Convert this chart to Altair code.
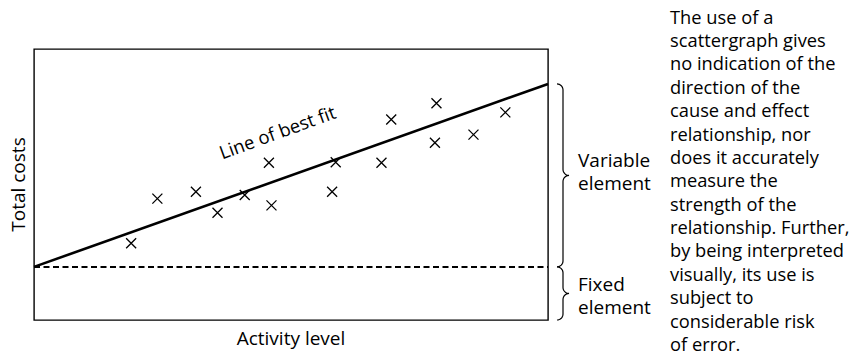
import math
import altair as alt
import pandas as pd

# ---- data (0-100 arbitrary units) ----
activity = [18.9, 24.0, 31.5, 35.7, 41.0, 45.7, 46.2, 58.0, 58.7, 67.6, 69.5, 78.0, 78.3, 85.5, 91.7]
cost = [28.3, 44.8, 47.3, 39.6, 46.1, 58.0, 42.3, 47.3, 58.2, 58.0, 74.0, 65.4, 80.0, 68.4, 76.6]
fit_x = [0, 100]
fit_y = [19.6, 87.1]
fixed_level = 19.6

x_title = "Activity level"
y_title = "Total costs"
paragraph = [
    "The use of a",
    "scattergraph gives",
    "no indication of the",
    "direction of the",
    "cause and effect",
    "relationship, nor",
    "does it accurately",
    "measure the",
    "strength of the",
    "relationship. Further,",
    "by being interpreted",
    "visually, its use is",
    "subject to",
    "considerable risk",
    "of error.",
]

W, H = 514, 271
FONT = "Open Sans"

xs = alt.Scale(domain=[0, 100], nice=False, zero=False)
ys = alt.Scale(domain=[0, 100], nice=False, zero=False)

pts = pd.DataFrame({"a": activity, "c": cost})
fit = pd.DataFrame({"a": fit_x, "c": fit_y})
fixed = pd.DataFrame({"a": [0, 100], "c": [fixed_level, fixed_level]})

base_x = alt.X("a:Q", scale=xs, axis=None)
base_y = alt.Y("c:Q", scale=ys, axis=None)

cross = "M-1,-1L1,1M-1,1L1,-1"
fixed_line = alt.Chart(fixed).mark_line(color="black", strokeWidth=2, strokeDash=[6, 3.5]).encode(
    x=base_x, y=base_y)

fit_line = alt.Chart(fit).mark_line(color="black", strokeWidth=2.6).encode(x=base_x, y=base_y)

points = alt.Chart(pts).mark_point(shape=cross, filled=False, stroke="black",
                                   strokeWidth=1.3, size=100, opacity=1).encode(x=base_x, y=base_y)

label = alt.Chart(pd.DataFrame({"a": [47.4], "c": [69.0], "t": ["Line of best fit"]})).mark_text(
    font=FONT, fontSize=18.5, angle=340, align="center", baseline="middle", color="black"
).encode(x=base_x, y=base_y, text="t:N")

# axis titles (the chart has no ticks or labels)
xt = alt.Chart(pd.DataFrame({"t": [x_title]})).mark_text(
    font=FONT, fontSize=19, align="center", baseline="alphabetic", color="black"
).encode(x=alt.value(W / 2), y=alt.value(H + 25), text="t:N")
yt = alt.Chart(pd.DataFrame({"t": [y_title]})).mark_text(
    font=FONT, fontSize=19, angle=270, align="center", baseline="alphabetic", color="black"
).encode(x=alt.value(-9), y=alt.value(H / 2), text="t:N")


# ---- braces, built from the levels they mark ----
def to_py(v):
    return H * (1 - v / 100.0)


def brace(y_top, y_bot, x0=523, r=6, tip=6):
    yt_, yb = to_py(y_top), to_py(y_bot)
    ym = (yt_ + yb) / 2
    sx = x0 + r
    out = []

    def arc(cx, cy, rad, a0, a1, n=8):
        for k in range(n + 1):
            t = math.radians(a0 + (a1 - a0) * k / n)
            out.append((cx + rad * math.cos(t), cy + rad * math.sin(t)))

    arc(x0, yt_ + r, r, -90, 0)
    arc(sx + tip, ym - tip, tip, 180, 90)
    arc(sx + tip, ym + tip, tip, 270, 180)
    arc(x0, yb - r, r, 0, 90)
    return out


rows = []
for name, (top, bot) in {"var": (fit_y[1], fixed_level), "fix": (fixed_level, 0)}.items():
    for i, (px, py) in enumerate(brace(top, bot)):
        rows.append({"b": name, "i": i, "px": px, "py": py})
braces = alt.Chart(pd.DataFrame(rows)).mark_line(color="black", strokeWidth=1.2).encode(
    x=alt.X("px:Q", scale=None, axis=None), y=alt.Y("py:Q", scale=None, axis=None),
    detail="b:N", order="i:Q")

side = pd.DataFrame({"t": ["Variable\nelement", "Fixed\nelement"],
                     "px": [544, 544], "py": [118, 241.5]})
side_text = alt.Chart(side).mark_text(font=FONT, fontSize=19, align="left", baseline="alphabetic",
                                      lineBreak="\n", lineHeight=23, color="black").encode(
    x=alt.X("px:Q", scale=None, axis=None), y=alt.Y("py:Q", scale=None, axis=None), text="t:N")

para = alt.Chart(pd.DataFrame({"t": ["\n".join(paragraph)]})).mark_text(
    font=FONT, fontSize=18.3, align="left", baseline="alphabetic", lineBreak="\n",
    lineHeight=23.4, color="black"
).encode(x=alt.value(636), y=alt.value(-25.5), text="t:N")

chart = alt.layer(fixed_line, fit_line, points, label, xt, yt, braces, side_text, para).properties(
    width=W, height=H,
    autosize=alt.AutoSizeParams(type="none"),
    padding={"left": 26, "top": 41, "right": 301, "bottom": 31},
    background="white",
).configure_view(stroke="black", strokeWidth=1.4)

chart.save("out.html", embed_options={"renderer": "svg", "actions": False})
